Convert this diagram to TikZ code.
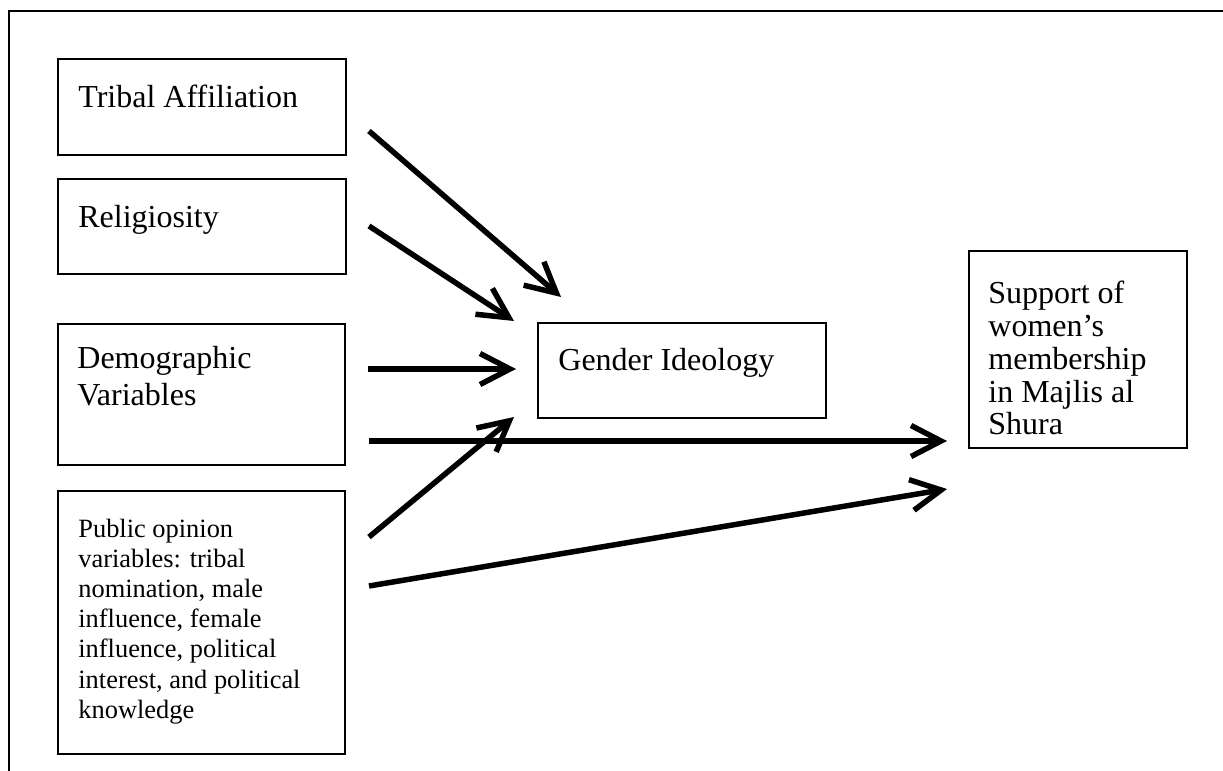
\documentclass[tikz,border=0pt]{standalone}
\usepackage{fontspec}
\setmainfont{Liberation Serif}
\usetikzlibrary{arrows.meta}
\begin{document}
\begin{tikzpicture}[x=0.5pt,y=-0.5pt,
  box/.style={draw, line width=1pt, rectangle, inner sep=0pt, anchor=north west},
  bigtxt/.style={anchor=base west, inner sep=0pt, font=\fontsize{16pt}{18.5pt}\selectfont},
  smalltxt/.style={anchor=base west, inner sep=0pt, font=\fontsize{13.2pt}{15pt}\selectfont},
  conn/.style={line width=2.75pt, -{Straight Barb[length=15pt, width=15.5pt]}}]
\useasboundingbox (0,0) rectangle (1223,771);
% frame (top and left edges only)
\draw[line width=1.1pt] (9,771) -- (9,11) -- (1223,11);
% boxes
\node[box, minimum width=144pt, minimum height=48pt] (trib) at (57,58) {};
\node[box, minimum width=144pt, minimum height=47.5pt] (relig) at (57,178) {};
\node[box, minimum width=143.5pt, minimum height=70.5pt] (demo) at (57,323) {};
\node[box, minimum width=143.5pt, minimum height=131.5pt] (pub) at (57,490) {};
\node[box, minimum width=144pt, minimum height=47.5pt] (gend) at (537,322) {};
\node[box, minimum width=109pt, minimum height=98.5pt] (supp) at (968,250) {};
% texts
\node[bigtxt] (tribt) at (78,107) {Tribal Affiliation};
\node[bigtxt] (religt) at (78,227) {Religiosity};
\node[bigtxt] (demot) at (77,368) {\parbox[t]{130pt}{\raggedright\lineskiplimit=-10pt Demographic\\Variables}};
\node[bigtxt] (gendt) at (558,370) {Gender Ideology};
\node[bigtxt] (suppt) at (988,303) {\parbox[t]{100pt}{\raggedright\fontsize{16pt}{16.5pt}\selectfont\lineskiplimit=-10pt Support of\\women’s\\membership\\in Majlis al\\Shura}};
\node[smalltxt] (pubt) at (78,537) {\parbox[t]{130pt}{\raggedright\fontsize{13.2pt}{15.1pt}\selectfont\lineskiplimit=-10pt Public opinion\\variables: tribal\\nomination, male\\influence, female\\influence, political\\interest, and political\\knowledge}};
% connector end points
\coordinate (a1s) at (369,131); \coordinate (a1e) at (561,297);
\coordinate (a2s) at (369,226); \coordinate (a2e) at (514,321);
\coordinate (a3s) at (368,369); \coordinate (a3e) at (516,369);
\coordinate (a4s) at (369,441); \coordinate (a4e) at (947,441);
\coordinate (a5s) at (369,537); \coordinate (a5e) at (514,417);
\coordinate (a6s) at (369,586); \coordinate (a6e) at (947,489);
\draw[conn] (a1s) -- (a1e);
\draw[conn] (a2s) -- (a2e);
\draw[conn] (a3s) -- (a3e);
\draw[conn] (a4s) -- (a4e);
\draw[conn] (a5s) -- (a5e);
\draw[conn] (a6s) -- (a6e);
\end{tikzpicture}
\end{document}
